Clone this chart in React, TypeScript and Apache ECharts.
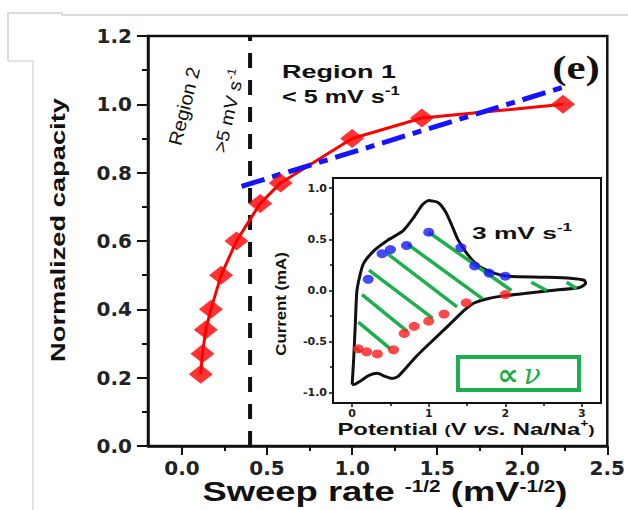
import React, { useEffect, useRef } from "react";
import * as echarts from "echarts";

// ---------- data ----------
const capX = [0.11, 0.12, 0.14, 0.17, 0.23, 0.32, 0.46, 0.58, 1.0, 1.41, 2.24];
const capY = [0.21, 0.27, 0.34, 0.40, 0.50, 0.60, 0.71, 0.77, 0.90, 0.96, 1.0];
const fitX = [0.35, 2.24];
const fitY = [0.76, 1.05];
const boundaryX = 0.4;

const mainXTicks = [0, 0.5, 1.0, 1.5, 2.0, 2.5];
const mainXMinor = [0.25, 0.75, 1.25, 1.75, 2.25];

const cvV = [
  0.0, 0.02, 0.04, 0.06, 0.09, 0.14, 0.19, 0.3, 0.46, 0.66, 0.8, 0.92, 1.0, 1.12, 1.22, 1.3, 1.38, 1.5, 1.65, 1.85,
  2.05, 2.5, 2.85, 3.03, 3.05,
  2.97, 2.6, 2.25, 2.0, 1.77, 1.6, 1.47, 1.33, 1.15, 0.98, 0.83, 0.7, 0.6, 0.52, 0.43, 0.33, 0.22, 0.12, 0.02, 0.0,
];
const cvI = [
  -0.92, -0.67, -0.35, -0.02, 0.11, 0.25, 0.31, 0.4, 0.49, 0.58, 0.71, 0.84, 0.88, 0.86, 0.77, 0.64, 0.5, 0.36, 0.24,
  0.17, 0.14, 0.13, 0.12, 0.1, 0.07,
  0.03, 0.0, -0.03, -0.05, -0.08, -0.12, -0.19, -0.29, -0.42, -0.54, -0.65, -0.76, -0.84, -0.86, -0.84, -0.81, -0.83,
  -0.88, -0.92, -0.92,
];
const blueV = [0.21, 0.39, 0.5, 0.71, 1.0, 1.42, 1.6, 1.79, 2.0];
const blueI = [0.11, 0.36, 0.4, 0.44, 0.57, 0.42, 0.24, 0.17, 0.14];
const redV = [0.08, 0.19, 0.33, 0.54, 0.68, 0.81, 1.0, 1.2, 1.49, 2.0];
const redI = [-0.57, -0.6, -0.62, -0.58, -0.42, -0.35, -0.3, -0.23, -0.12, -0.04];
// green capacitive segments: [V1, I1, V2, I2]
const greenSegs = [
  [1.0, 0.57, 2.08, 0.0],
  [0.73, 0.45, 1.7, -0.08],
  [0.46, 0.36, 1.37, -0.16],
  [0.22, 0.2, 1.05, -0.27],
  [0.13, -0.04, 0.72, -0.4],
  [0.08, -0.31, 0.5, -0.57],
  [0.05, -0.56, 0.11, -0.6],
  [2.34, 0.08, 2.54, 0.0],
  [2.8, 0.08, 2.93, 0.02],
];
const insetXTicks = [0, 1, 2, 3];
const insetXMinor = [0.5, 1.5, 2.5];
const insetYTicks = [-1, -0.5, 0, 0.5, 1];
const insetYMinor = [-0.75, -0.25, 0.25, 0.75];

const BLACK = "#111";
const GREEN = "#1bb04c";

export default function App() {
  const ref = useRef<HTMLDivElement>(null);

  useEffect(() => {
    if (!ref.current) return;
    const chart = echarts.init(ref.current, null, { renderer: "svg" });

    const tickLbl = {
      fontFamily: "DejaVu Sans",
      fontWeight: "bold" as const,
      color: "#222",
    };

    const sans = "Liberation Sans";
    const txt = (x: number, y: number, text: string, o: any = {}) => ({
      type: "text",
      x,
      y,
      rotation: o.rotation || 0,
      scaleX: o.scaleX || 1,
      scaleY: o.scaleY || 1,
      z: 20,
      style: {
        text,
        fontFamily: o.fontFamily || sans,
        fontWeight: o.fontWeight || "bold",
        fontStyle: o.fontStyle || "normal",
        fontSize: o.fontSize || 18,
        fill: o.fill || BLACK,
        align: o.align || "center",
        verticalAlign: "middle",
        rich: o.rich,
      },
    });

    const option: any = {
      animation: false,
      backgroundColor: "#fff",
      grid: [
        {
          left: 148,
          right: 13,
          top: 36,
          bottom: 64,
          show: true,
          borderColor: BLACK,
          borderWidth: 2.5,
          backgroundColor: "transparent",
        },
        {
          left: 333,
          right: 27,
          top: 178,
          bottom: 107,
          show: true,
          borderColor: BLACK,
          borderWidth: 2,
          backgroundColor: "#fff",
        },
      ],
      xAxis: [
        {
          gridIndex: 0,
          type: "value",
          min: -0.2,
          max: 2.5,
          axisLine: { show: true, onZero: false, lineStyle: { color: BLACK, width: 2.5 } },
          axisTick: { show: true, length: 9, customValues: mainXTicks, lineStyle: { color: BLACK, width: 2 } },
          axisLabel: {
            ...tickLbl,
            customValues: mainXTicks,
            fontSize: 20,
            margin: 12,
            formatter: (v: number) => v.toFixed(1),
          },
          splitLine: { show: false },
        },
        {
          gridIndex: 0,
          type: "value",
          min: -0.2,
          max: 2.5,
          position: "bottom",
          axisLine: { show: false, onZero: false },
          axisTick: { show: true, length: 5, customValues: mainXMinor, lineStyle: { color: BLACK, width: 2 } },
          axisLabel: { show: false },
          splitLine: { show: false },
        },
        {
          gridIndex: 1,
          type: "value",
          min: -0.25,
          max: 3.25,
          axisLine: { show: true, onZero: false, lineStyle: { color: BLACK, width: 2 } },
          axisTick: { show: true, length: 4, customValues: insetXTicks, lineStyle: { color: BLACK, width: 1.5 } },
          axisLabel: {
            ...tickLbl,
            customValues: insetXTicks,
            fontSize: 11,
            margin: 5,
            formatter: (v: number) => String(v),
          },
          splitLine: { show: false },
        },
        {
          gridIndex: 1,
          type: "value",
          min: -0.25,
          max: 3.25,
          position: "bottom",
          axisLine: { show: false, onZero: false },
          axisTick: { show: true, length: 3, customValues: insetXMinor, lineStyle: { color: BLACK, width: 1.5 } },
          axisLabel: { show: false },
          splitLine: { show: false },
        },
      ],
      yAxis: [
        {
          gridIndex: 0,
          type: "value",
          min: 0,
          max: 1.2,
          interval: 0.2,
          axisLine: { show: true, onZero: false, lineStyle: { color: BLACK, width: 2.5 } },
          axisTick: { show: true, length: 11, lineStyle: { color: BLACK, width: 2 } },
          minorTick: { show: true, splitNumber: 2, length: 6, lineStyle: { color: BLACK, width: 2 } },
          axisLabel: {
            ...tickLbl,
            fontSize: 20,
            margin: 16,
            formatter: (v: number) => v.toFixed(1),
          },
          splitLine: { show: false },
          minorSplitLine: { show: false },
        },
        {
          gridIndex: 1,
          type: "value",
          min: -1.1,
          max: 1.1,
          axisLine: { show: true, onZero: false, lineStyle: { color: BLACK, width: 2 } },
          axisTick: { show: true, length: 4, customValues: insetYTicks, lineStyle: { color: BLACK, width: 1.5 } },
          axisLabel: {
            ...tickLbl,
            customValues: insetYTicks,
            fontSize: 11,
            margin: 6,
            formatter: (v: number) => v.toFixed(1),
          },
          splitLine: { show: false },
        },
        {
          gridIndex: 1,
          type: "value",
          min: -1.1,
          max: 1.1,
          position: "left",
          axisLine: { show: false, onZero: false },
          axisTick: { show: true, length: 3, customValues: insetYMinor, lineStyle: { color: BLACK, width: 1.5 } },
          axisLabel: { show: false },
          splitLine: { show: false },
        },
      ],
      series: [
        {
          type: "line",
          xAxisIndex: 0,
          yAxisIndex: 0,
          data: [
            [boundaryX, 0],
            [boundaryX, 1.2],
          ],
          symbol: "none",
          lineStyle: { color: BLACK, width: 4, type: [15, 12] },
          z: 1,
        },
        {
          type: "line",
          xAxisIndex: 0,
          yAxisIndex: 0,
          data: capX.map((x, i) => [x, capY[i]]),
          symbol: "none",
          lineStyle: { color: "#ff0000", width: 3 },
          z: 2,
        },
        {
          type: "line",
          xAxisIndex: 0,
          yAxisIndex: 0,
          data: fitX.map((x, i) => [x, fitY[i]]),
          symbol: "none",
          lineStyle: { color: "#1414ff", width: 5, type: [24, 8, 9, 8] },
          z: 3,
        },
        {
          type: "scatter",
          xAxisIndex: 0,
          yAxisIndex: 0,
          data: capX.map((x, i) => [x, capY[i]]),
          symbol: "diamond",
          symbolSize: [24, 19],
          itemStyle: { color: "#ff0000" },
          z: 4,
        },
        {
          type: "line",
          xAxisIndex: 2,
          yAxisIndex: 1,
          data: cvV.map((v, i) => [v, cvI[i]]),
          symbol: "none",
          smooth: 0.2,
          lineStyle: { color: BLACK, width: 3 },
          z: 5,
        },
        {
          type: "lines",
          coordinateSystem: "cartesian2d",
          xAxisIndex: 2,
          yAxisIndex: 1,
          data: greenSegs.map((s) => ({
            coords: [
              [s[0], s[1]],
              [s[2], s[3]],
            ],
          })),
          lineStyle: { color: GREEN, width: 3.5, opacity: 1, curveness: 0 },
          z: 6,
        },
        {
          type: "scatter",
          xAxisIndex: 2,
          yAxisIndex: 1,
          data: blueV.map((v, i) => [v, blueI[i]]),
          symbol: "circle",
          symbolSize: [11, 9],
          itemStyle: { color: "#1a1aff" },
          z: 7,
        },
        {
          type: "scatter",
          xAxisIndex: 2,
          yAxisIndex: 1,
          data: redV.map((v, i) => [v, redI[i]]),
          symbol: "circle",
          symbolSize: [11, 9],
          itemStyle: { color: "#ff1a1a" },
          z: 7,
        },
      ],
      graphic: [
        // light frame remnants
        {
          type: "polyline",
          shape: { points: [[8, 61], [8, 13], [62, 13], [62, 15], [628, 15]] },
          style: { stroke: "#cfcfcf", lineWidth: 1.5, fill: "none" },
        },
        {
          type: "polyline",
          shape: { points: [[8, 61], [33, 61], [33, 510]] },
          style: { stroke: "#dcdcdc", lineWidth: 1.5, fill: "none" },
        },
        txt(58, 230, "Normalized capacity", { rotation: Math.PI / 2, fontSize: 21, scaleX: 1.3 }),
        txt(385, 492, "{a|Sweep rate }{s|-1/2}{a| (mV}{s|-1/2}{a|)}", {
          scaleX: 1.3,
          rich: {
            a: { fontFamily: sans, fontWeight: "bold", fontSize: 28, fill: BLACK },
            s: { fontFamily: sans, fontWeight: "bold", fontSize: 16, fill: BLACK, padding: [0, 0, 12, 0] },
          },
        }),
        txt(184, 106, "Region 2", { rotation: (76 * Math.PI) / 180, fontSize: 19, fontWeight: "normal", scaleX: 1.05 }),
        txt(229, 111, "{a|>5 mV s}{s|-1}", {
          rotation: (77 * Math.PI) / 180,
          scaleX: 1.1,
          rich: {
            a: { fontFamily: sans, fontSize: 18, fill: BLACK },
            s: { fontFamily: sans, fontSize: 12, fill: BLACK, padding: [0, 0, 12, 0] },
          },
        }),
        txt(282, 72, "Region 1", { align: "left", fontSize: 18, scaleX: 1.5 }),
        txt(282, 97, "{a|< 5 mV s}{s|-1}", {
          align: "left",
          scaleX: 1.4,
          rich: {
            a: { fontFamily: sans, fontWeight: "bold", fontSize: 18, fill: BLACK },
            s: { fontFamily: sans, fontWeight: "bold", fontSize: 12, fill: BLACK, padding: [0, 0, 12, 0] },
          },
        }),
        txt(576, 68, "(e)", { fontFamily: "Liberation Serif", fontSize: 33, scaleX: 1.3 }),
        txt(281, 304, "Current (mA)", { rotation: Math.PI / 2, fontSize: 15, scaleX: 1.12 }),
        txt(466, 429, "{a|Potential }{p|(}{a|V }{i|vs.}{a| Na/Na}{s|+}{p|)}", {
          scaleX: 1.4,
          rich: {
            a: { fontFamily: sans, fontWeight: "bold", fontSize: 17, fill: BLACK },
            i: { fontFamily: sans, fontWeight: "bold", fontStyle: "italic", fontSize: 17, fill: BLACK },
            p: { fontFamily: sans, fontWeight: "bold", fontSize: 13, fill: BLACK },
            s: { fontFamily: sans, fontWeight: "bold", fontSize: 10, fill: BLACK, padding: [0, 0, 10, 0] },
          },
        }),
        txt(522, 233, "{a|3 mV s}{s|-1}", {
          scaleX: 1.55,
          rich: {
            a: { fontFamily: sans, fontWeight: "bold", fontSize: 17, fill: BLACK },
            s: { fontFamily: sans, fontWeight: "bold", fontSize: 11, fill: BLACK, padding: [0, 0, 11, 0] },
          },
        }),
        {
          type: "rect",
          z: 19,
          shape: { x: 458, y: 357, width: 121, height: 33 },
          style: { fill: "#fff", stroke: GREEN, lineWidth: 4 },
        },
        txt(519, 374, "{a|∝} {b|ν}", {
          rich: {
            a: { fontFamily: "DejaVu Sans", fontWeight: "bold", fontSize: 30, fill: GREEN },
            b: { fontFamily: "DejaVu Serif", fontStyle: "italic", fontSize: 28, fill: GREEN },
          },
        }),
      ],
    };

    chart.setOption(option);
    return () => chart.dispose();
  }, []);

  return (
    <div
      ref={ref}
      style={{ position: "fixed", left: 0, top: 0, width: 628, height: 510, background: "#fff" }}
    />
  );
}
